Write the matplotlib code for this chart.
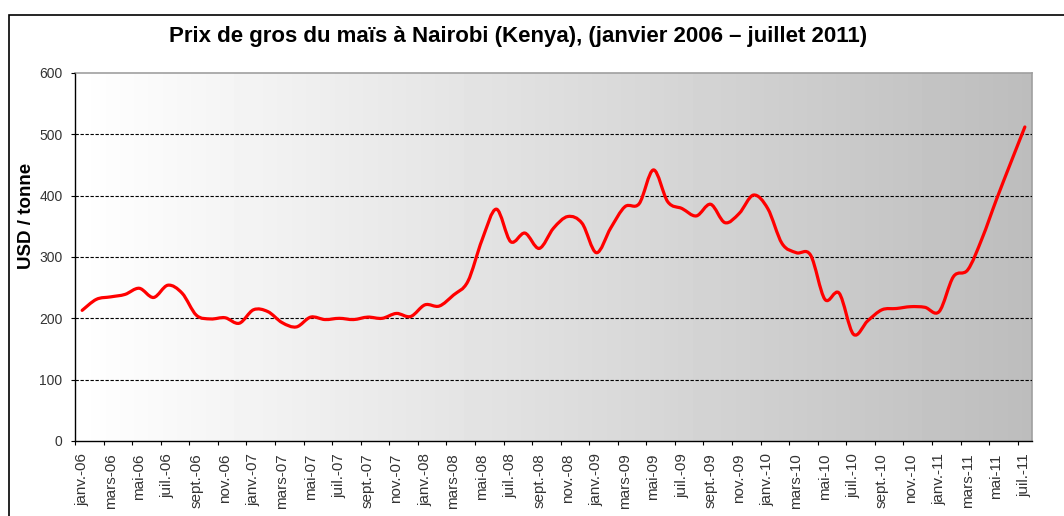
import numpy as np
import matplotlib.pyplot as plt
from matplotlib.path import Path
from matplotlib.patches import PathPatch, Rectangle

plt.rcParams['font.family'] = ['Liberation Sans', 'DejaVu Sans']

# mois / annees pour les etiquettes de l'axe x
mois = ['janv.', 'févr.', 'mars', 'avr.', 'mai', 'juin',
        'juil.', 'août', 'sept.', 'oct.', 'nov.', 'déc.']
annees = ['06', '07', '08', '09', '10', '11']
etiquettes = [m + '-' + a for a in annees for m in mois][:67]

# prix de gros (USD / tonne), janv. 2006 -> juil. 2011
prix = [213, 231, 235, 239, 249, 234, 254, 241, 205, 199, 201, 192,
        214, 211, 193, 186, 202, 198, 200, 198, 202, 200, 208, 203,
        222, 220, 238, 260, 328, 378, 325, 339, 314, 347, 366, 355,
        307, 347, 382, 387, 442, 390, 379, 367, 386, 356, 371, 401,
        379, 322, 307, 303, 231, 241, 174, 196, 214, 216, 219, 218,
        211, 268, 279, 330, 393, 453, 512]

y_ticks = [0, 100, 200, 300, 400, 500, 600]


def smooth_path(x, y):
    # courbe lissee facon Excel (Catmull-Rom -> Bezier)
    n = len(x)
    verts = [(x[0], y[0])]
    codes = [Path.MOVETO]
    for i in range(n - 1):
        xa, ya = (x[i - 1], y[i - 1]) if i > 0 else (x[i], y[i])
        xd, yd = (x[i + 2], y[i + 2]) if i + 2 < n else (x[i + 1], y[i + 1])
        c1 = (x[i] + (x[i + 1] - xa) / 6.0, y[i] + (y[i + 1] - ya) / 6.0)
        c2 = (x[i + 1] - (xd - x[i]) / 6.0, y[i + 1] - (yd - y[i]) / 6.0)
        verts += [c1, c2, (x[i + 1], y[i + 1])]
        codes += [Path.CURVE4] * 3
    return Path(verts, codes)


fig = plt.figure(figsize=(10.64, 5.16), dpi=100)
ax = fig.add_axes([75 / 1064, 1 - 441 / 516, (1032 - 75) / 1064, (441 - 73) / 516])

n = len(prix)
xs = np.arange(n)

# fond en degrade blanc -> gris
grad = np.linspace(1.0, 0.74, 256).reshape(1, -1)
ax.imshow(grad, cmap='gray', vmin=0, vmax=1, aspect='auto',
          extent=[-0.5, n - 0.5, 0, 600], zorder=0, interpolation='bilinear')

ax.add_patch(PathPatch(smooth_path(xs, prix), fill=False, edgecolor='#ff0000',
                       lw=2.3, capstyle='round', joinstyle='round', zorder=3))

ax.set_xlim(-0.5, n - 0.5)
ax.set_ylim(0, 600)

ax.set_yticks(y_ticks)
ax.set_yticklabels([str(v) for v in y_ticks])
ax.yaxis.grid(True, linestyle=(0, (3, 1.5)), color='black', lw=0.8)
gl = ax.get_ygridlines()
gl[0].set_visible(False)
gl[-1].set_visible(False)
ax.set_axisbelow(False)

ax.set_xticks(np.arange(-0.5, n - 1, 2))
ax.set_xticklabels([])
ax.set_xticks(xs[::2], minor=True)
ax.set_xticklabels(etiquettes[::2], minor=True, rotation=90, fontsize=11,
                   color='#333333', va='top')
ax.tick_params(axis='x', which='minor', length=0, pad=9)
ax.tick_params(axis='x', which='major', direction='out', length=3, width=0.8, color='black')
ax.tick_params(axis='y', direction='out', length=3, width=0.8, color='black',
               labelsize=10, labelcolor='#333333', pad=6)

for s in ['left', 'bottom']:
    ax.spines[s].set_color('black')
    ax.spines[s].set_linewidth(1)
for s in ['top', 'right']:
    ax.spines[s].set_color('#a0a0a0')
    ax.spines[s].set_linewidth(1.2)

fig.text(518 / 1064, 1 - 36.5 / 516,
         'Prix de gros du maïs à Nairobi (Kenya), (janvier 2006 – juillet 2011)',
         ha='center', va='center', fontsize=16, fontweight='bold')
fig.text(27 / 1064, 1 - 216 / 516, 'USD / tonne', rotation=90,
         ha='center', va='center', fontsize=13.5, fontweight='bold')

# cadre exterieur du graphique
fig.add_artist(Rectangle((9 / 1064, -0.1), 1.2, 1.1 - 15 / 516,
                         transform=fig.transFigure, fill=False,
                         edgecolor='black', lw=1.2, clip_on=False))

fig.savefig('out.png', dpi=100)
